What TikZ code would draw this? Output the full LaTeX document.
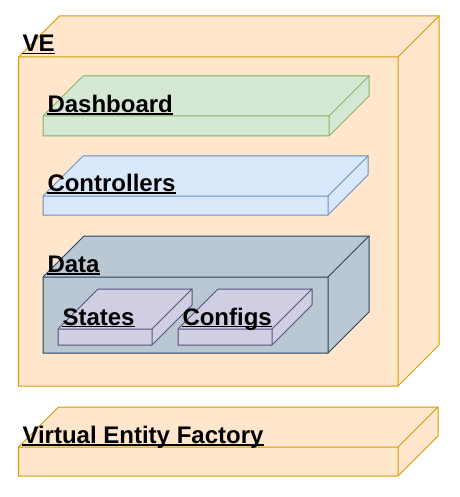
\documentclass[tikz,border=0pt]{standalone}
\usepackage{fontspec}
\setmainfont{Liberation Sans}
\definecolor{veFill}{HTML}{FFE6CC}
\definecolor{veLine}{HTML}{D79B00}
\definecolor{dashFill}{HTML}{D5E8D4}
\definecolor{dashLine}{HTML}{82B366}
\definecolor{ctrlFill}{HTML}{DAE8FC}
\definecolor{ctrlLine}{HTML}{6C8EBF}
\definecolor{dataFill}{HTML}{BAC8D3}
\definecolor{dataLine}{HTML}{23445D}
\definecolor{itemFill}{HTML}{D0CEE2}
\definecolor{itemLine}{HTML}{56517E}
\begin{document}
\begin{tikzpicture}[x=1bp,y=-1bp,line width=1bp,
    layer/.style={font=\bfseries\fontsize{24bp}{28bp}\selectfont,anchor=base west,inner sep=0pt},
    uline/.style={line width=1.5bp},
    vebox/.style={fill=veFill,draw=veLine},
    dashbox/.style={fill=dashFill,draw=dashLine},
    ctrlbox/.style={fill=ctrlFill,draw=ctrlLine},
    databox/.style={fill=dataFill,draw=dataLine},
    itembox/.style={fill=itemFill,draw=itemLine}]
    \useasboundingbox (0,0) rectangle (460,497);

    \foreach \a/\b/\c/\e/\d/\s in {18.5/57/398/386/41/vebox, 43/116/329/136/40/dashbox,
        43/196/328/215/40/ctrlbox, 43/277/328/353/41/databox, 58/329/152/345/40/itembox,
        178/329/272/345/40/itembox, 18.5/447/398/476/40/vebox}
    {
        \filldraw[\s] (\a,\b) -- (\a+\d,\b-\d) -- (\c+\d,\b-\d) -- (\c+\d,\e-\d) -- (\c,\e) -- (\a,\e) -- cycle;
        \draw[\s,fill=none] (\a,\b) -- (\c,\b) -- (\c+\d,\b-\d) (\c,\b) -- (\c,\e);
    }

    \node[layer] at (22,52) (ve) {VE};
    \node[layer] at (47,112.7) (dash) {Dashboard};
    \node[layer] at (47,191.7) (ctrl) {Controllers};
    \node[layer] at (47,272.7) (data) {Data};
    \node[layer] at (62,325) (states) {States};
    \node[layer] at (182,325) (configs) {Configs};
    \node[layer] at (22,443.3) (vef) {Virtual Entity Factory};

    \foreach \n in {ve,dash,ctrl,data,states,configs,vef}
        \draw[uline] ([yshift=-1.5bp]\n.base west) -- ([yshift=-1.5bp]\n.base east);
\end{tikzpicture}
\end{document}
